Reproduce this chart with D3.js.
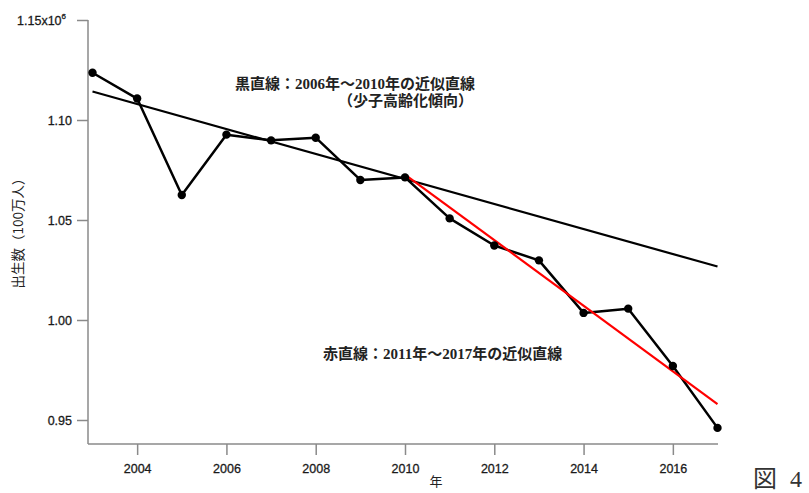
<!DOCTYPE html>
<html><head><meta charset="utf-8">
<script src="https://cdn.jsdelivr.net/npm/d3@7"></script>
<style>body{margin:0;background:#fff}svg{display:block}</style>
</head><body>
<script>
const years = [2003,2004,2005,2006,2007,2008,2009,2010,2011,2012,2013,2014,2015,2016,2017];
const births = [1.123610,1.110721,1.062530,1.092674,1.089818,1.091156,1.070035,1.071304,1.050806,1.037231,1.029816,1.003539,1.005677,0.976978,0.946060];
const blackFitYears = [2003, 2017];
const blackFitValues = [1.11426, 1.02673];
const redFitYears = [2010, 2017];
const redFitValues = [1.07271, 0.95799];
const xTicks = [2004,2006,2008,2010,2012,2014,2016];
const yTicks = [0.95,1.00,1.05,1.10,1.15];
const yTickLabels = ["0.95","1.00","1.05","1.10","1.15x10"];

const W=809,H=493;
const svg=d3.select("body").append("svg").attr("width",W).attr("height",H);
const x=d3.scaleLinear().domain([2003,2017]).range([92.5,717.5]);
const y=d3.scaleLinear().domain([0.95,1.15]).range([420,20]);
const axisLeft=88, axisBottom=444;
const axisColor="#8a8a8a";
const sans="'Liberation Sans', Arial, sans-serif";

// Y axis
const yAxis=d3.axisLeft(y).tickValues(yTicks).tickSize(11).tickPadding(5)
  .tickFormat((d,i)=>yTickLabels[i]);
const gy=svg.append("g").attr("transform",`translate(${axisLeft},0)`).call(yAxis);
gy.select(".domain").remove();
gy.append("line").attr("x1",0).attr("x2",0).attr("y1",y(1.15)).attr("y2",axisBottom)
  .attr("stroke",axisColor).attr("stroke-width",1.5);
gy.selectAll(".tick line").attr("stroke",axisColor).attr("stroke-width",1.5);
gy.selectAll(".tick text").attr("fill","#1a1a1a").style("font-family",sans).style("font-size","12.5px")
  .attr("stroke","#1a1a1a").attr("stroke-width",0.3);
gy.selectAll(".tick").filter(d=>d===1.15).select("text").attr("dx","-6px")
  .append("tspan").attr("dy","-6").style("font-size","8px").text("6");

// X axis
const xAxis=d3.axisBottom(x).tickValues(xTicks).tickSize(11).tickPadding(9).tickFormat(d3.format("d"));
const gx=svg.append("g").attr("transform",`translate(0,${axisBottom})`).call(xAxis);
gx.select(".domain").remove();
gx.append("line").attr("x1",axisLeft).attr("x2",718).attr("y1",0).attr("y2",0)
  .attr("stroke",axisColor).attr("stroke-width",1.5);
gx.selectAll(".tick line").attr("stroke",axisColor).attr("stroke-width",1.5);
gx.selectAll(".tick text").attr("fill","#1a1a1a").style("font-family",sans).style("font-size","12.5px")
  .attr("stroke","#1a1a1a").attr("stroke-width",0.3);

// Axis titles
svg.append("text").attr("x",436).attr("y",486).attr("text-anchor","middle")
  .style("font-family","'Noto Sans CJK JP', sans-serif").style("font-size","13px").attr("fill","#222").text("年");
svg.append("text").attr("transform","translate(23,230) rotate(-90)").attr("text-anchor","middle")
  .style("font-family","'Noto Sans CJK JP', sans-serif").style("font-size","13.5px").attr("fill","#222").text("出生数（100万人）");

// Fit lines
const line=d3.line().x(d=>x(d[0])).y(d=>y(d[1]));
svg.append("path").datum(blackFitYears.map((t,i)=>[t,blackFitValues[i]]))
  .attr("d",line).attr("stroke","#000").attr("stroke-width",2.2).attr("fill","none");

// Data line
const data=years.map((t,i)=>[t,births[i]]);
svg.append("path").datum(data).attr("d",line).attr("stroke","#000").attr("stroke-width",2.5)
  .attr("fill","none").attr("stroke-linejoin","round");

svg.append("path").datum(redFitYears.map((t,i)=>[t,redFitValues[i]]))
  .attr("d",line).attr("stroke","#ff0000").attr("stroke-width",2.2).attr("fill","none");

svg.selectAll("circle.pt").data(data).enter().append("circle").attr("class","pt")
  .attr("cx",d=>x(d[0])).attr("cy",d=>y(d[1])).attr("r",4.2).attr("fill","#000");

// Annotations
const serif="'Liberation Serif', 'Noto Sans CJK JP', serif";
svg.append("text").attr("x",235).attr("y",89).style("font-family",serif).style("font-size","15px")
  .style("font-weight","bold").attr("fill","#222").text("黒直線：2006年～2010年の近似直線");
svg.append("text").attr("x",473).attr("y",106).attr("text-anchor","end").style("font-family",serif).style("font-size","15px")
  .style("font-weight","bold").attr("fill","#222").text("（少子高齢化傾向）");
svg.append("text").attr("x",323).attr("y",359).style("font-family",serif).style("font-size","15px")
  .style("font-weight","bold").attr("fill","#222").text("赤直線：2011年～2017年の近似直線");

const fig=svg.append("text").attr("y",487).style("font-family","'Liberation Serif','Noto Sans CJK JP', serif")
  .style("font-size","24px").attr("fill","#333");
fig.append("tspan").attr("x",753).text("図");
fig.append("tspan").attr("x",790).text("4");
</script>
</body></html>
